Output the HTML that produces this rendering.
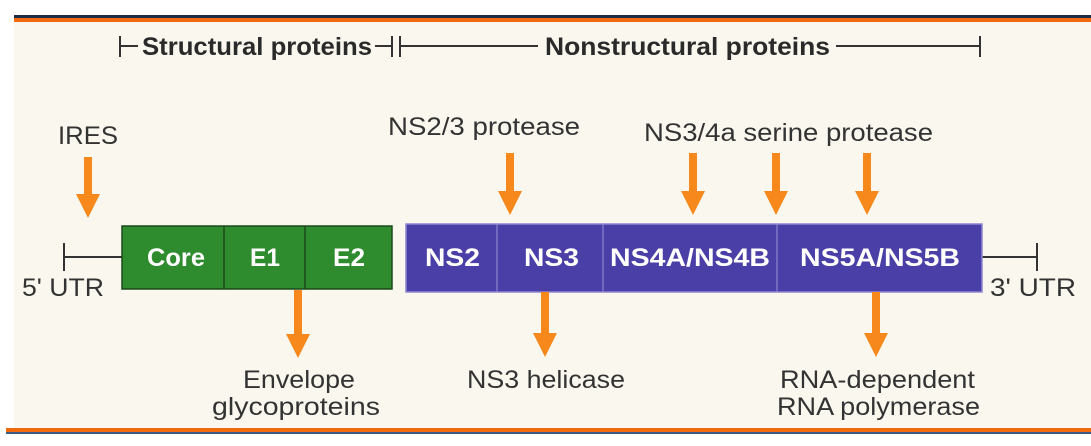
<!DOCTYPE html>
<html><head><meta charset="utf-8"><style>
body{margin:0;width:1091px;height:441px;overflow:hidden;background:#fff;font-family:"Liberation Sans",sans-serif}
</style></head><body>
<svg width="1091" height="441" viewBox="0 0 1091 441" xmlns="http://www.w3.org/2000/svg" font-family="Liberation Sans, sans-serif">
<rect x="14" y="16" width="1077" height="418" fill="#faf7ee"/>
<rect x="14" y="15" width="1077" height="3" fill="#1b2d4a"/>
<rect x="14" y="18" width="1077" height="4" fill="#f26a10"/>
<rect x="6" y="428" width="1085" height="4" fill="#f26a10"/>
<rect x="6" y="432" width="1085" height="2" fill="#3a5a8a"/>
<g stroke="#333" stroke-width="2" fill="none">
<path d="M120 36V57M120 46H138M375 46H392M392 36V57M400 36V57M400 46H538M836 46H980M980 36V57"/>
<path d="M64 243V271M64 257H122M982 257H1037M1037 243V271"/>
</g>
<g font-size="25" font-weight="bold" fill="#2a2a2a">
<text x="142" y="55" textLength="230" lengthAdjust="spacingAndGlyphs">Structural proteins</text>
<text x="545" y="55" textLength="285" lengthAdjust="spacingAndGlyphs">Nonstructural proteins</text>
</g>
<rect x="122" y="226" width="270" height="63" fill="#2e8b2e" stroke="#1a4a1a" stroke-width="1.5"/>
<path d="M224 226V289M305 226V289" stroke="#1a4a1a" stroke-width="1.5"/>
<rect x="406" y="224" width="576" height="68" fill="#4a3fa6" stroke="#8f85cf" stroke-width="1.5"/>
<path d="M497 224V292M603 224V292M777 224V292" stroke="#8f85cf" stroke-width="1.2"/>
<g font-size="25" font-weight="bold" fill="#fff" lengthAdjust="spacingAndGlyphs">
<text x="147" y="266" textLength="58" lengthAdjust="spacingAndGlyphs">Core</text>
<text x="250" y="266" textLength="30" lengthAdjust="spacingAndGlyphs">E1</text>
<text x="333" y="266" textLength="32" lengthAdjust="spacingAndGlyphs">E2</text>
<text x="425" y="266" textLength="55" lengthAdjust="spacingAndGlyphs">NS2</text>
<text x="524" y="266" textLength="55" lengthAdjust="spacingAndGlyphs">NS3</text>
<text x="610" y="266" textLength="160" lengthAdjust="spacingAndGlyphs">NS4A/NS4B</text>
<text x="800" y="266" textLength="160" lengthAdjust="spacingAndGlyphs">NS5A/NS5B</text>
</g>
<g font-size="25" fill="#333">
<text x="58" y="144" textLength="60" lengthAdjust="spacingAndGlyphs">IRES</text>
<text x="388" y="135" textLength="192" lengthAdjust="spacingAndGlyphs">NS2/3 protease</text>
<text x="644" y="141" textLength="289" lengthAdjust="spacingAndGlyphs">NS3/4a serine protease</text>
<text x="22" y="296" textLength="82" lengthAdjust="spacingAndGlyphs">5' UTR</text>
<text x="990" y="296" textLength="86" lengthAdjust="spacingAndGlyphs">3' UTR</text>
<text x="243" y="388" textLength="112" lengthAdjust="spacingAndGlyphs">Envelope</text>
<text x="212" y="415" textLength="168" lengthAdjust="spacingAndGlyphs">glycoproteins</text>
<text x="467" y="388" textLength="158" lengthAdjust="spacingAndGlyphs">NS3 helicase</text>
<text x="780" y="388" textLength="195" lengthAdjust="spacingAndGlyphs">RNA-dependent</text>
<text x="777" y="415" textLength="203" lengthAdjust="spacingAndGlyphs">RNA polymerase</text>
</g>
<g fill="#f7891c">
<path d="M84 157h8v37h8l-12 24l-12-24h8z"/>
<path d="M506 153h8v38h8l-12 24l-12-24h8z"/>
<path d="M689 153h8v38h8l-12 24l-12-24h8z"/>
<path d="M772 153h8v38h8l-12 24l-12-24h8z"/>
<path d="M863 153h8v38h8l-12 24l-12-24h8z"/>
<path d="M294 290h8v44h8l-12 24l-12-24h8z"/>
<path d="M541 292h8v41h8l-12 24l-12-24h8z"/>
<path d="M872 292h8v41h8l-12 24l-12-24h8z"/>
</g>
</svg>
</body></html>
